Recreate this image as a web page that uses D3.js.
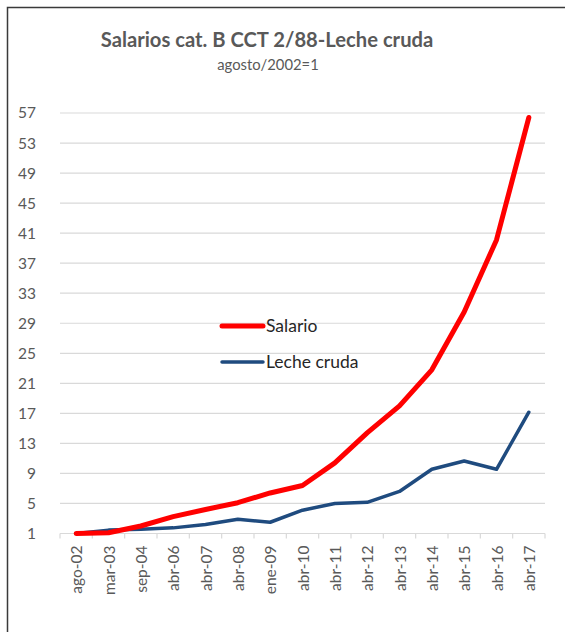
<!DOCTYPE html>
<html>
<head>
<meta charset="utf-8">
<script src="https://cdn.jsdelivr.net/npm/d3@7"></script>
<style>
  body { margin: 0; background: #fff; }
  text { font-family: Lato, "Open Sans", sans-serif; }
</style>
</head>
<body>
<div id="chart"></div>
<script>
var w = 565,
  h = 632;

// data (agosto/2002 = 1)
var categories = ['ago-02', 'mar-03', 'sep-04', 'abr-06', 'abr-07', 'abr-08', 'ene-09', 'abr-10',
  'abr-11', 'abr-12', 'abr-13', 'abr-14', 'abr-15', 'abr-16', 'abr-17'];
var salario = [1.0, 1.1, 2.0, 3.25, 4.2, 5.1, 6.4, 7.4, 10.4, 14.4, 18.0, 22.8, 30.5, 40.1, 56.4];
var leche = [1.0, 1.45, 1.55, 1.75, 2.2, 2.9, 2.5, 4.1, 5.0, 5.15, 6.6, 9.55, 10.65, 9.55, 17.15];
var yTicks = [1, 5, 9, 13, 17, 21, 25, 29, 33, 37, 41, 45, 49, 53, 57];

var series = [
  { name: 'Salario', values: salario, color: '#ff0000', width: 5 },
  { name: 'Leche cruda', values: leche, color: '#1f4b7f', width: 3.5 }
];

var plot = { left: 60, right: 545, top: 113, bottom: 533.5 };

var svg = d3.select('#chart').append('svg')
  .attr('width', w)
  .attr('height', h);

// outer frame (cut off at the right and bottom like the picture)
svg.append('rect')
  .attr('x', 7.5).attr('y', 7.5)
  .attr('width', w + 20).attr('height', h + 20)
  .attr('fill', '#fff')
  .attr('stroke', '#3a3a3a')
  .attr('stroke-width', 1.5);

// title
svg.append('text')
  .attr('x', 267).attr('y', 47)
  .attr('text-anchor', 'middle')
  .attr('font-size', 20.2)
  .attr('font-weight', 'bold')
  .attr('fill', '#595959')
  .text('Salarios cat. B CCT 2/88-Leche cruda');

svg.append('text')
  .attr('x', 268).attr('y', 70)
  .attr('text-anchor', 'middle')
  .attr('font-size', 14.8)
  .attr('fill', '#595959')
  .text('agosto/2002=1');

var x = d3.scaleBand()
  .domain(categories)
  .range([plot.left, plot.right]);

var y = d3.scaleLinear()
  .domain([1, 57])
  .range([plot.bottom, plot.top]);

// gridlines
svg.append('g')
  .selectAll('line')
  .data(yTicks.slice(1))
  .enter().append('line')
  .attr('x1', plot.left).attr('x2', plot.right)
  .attr('y1', function(d) { return y(d); })
  .attr('y2', function(d) { return y(d); })
  .attr('stroke', '#d9d9d9')
  .attr('stroke-width', 1.2);

// y axis labels
var yAxis = svg.append('g')
  .attr('transform', 'translate(' + (plot.left - 24) + ',0)')
  .call(d3.axisLeft(y).tickValues(yTicks).tickSize(0).tickPadding(0));
yAxis.select('.domain').remove();
yAxis.selectAll('text')
  .attr('font-size', 15.5)
  .attr('fill', '#595959')
  .style('font-family', 'Lato, "Open Sans", sans-serif');

// x axis: line plus ticks on the band edges
var xg = svg.append('g');
xg.append('line')
  .attr('x1', plot.left).attr('x2', plot.right)
  .attr('y1', plot.bottom).attr('y2', plot.bottom)
  .attr('stroke', '#d9d9d9')
  .attr('stroke-width', 1.2);
xg.selectAll('.tick')
  .data(categories.concat(['end']))
  .enter().append('line')
  .attr('x1', function(d, i) { return plot.left + i * x.step(); })
  .attr('x2', function(d, i) { return plot.left + i * x.step(); })
  .attr('y1', plot.bottom)
  .attr('y2', plot.bottom + 5)
  .attr('stroke', '#d9d9d9')
  .attr('stroke-width', 1.2);
xg.selectAll('text')
  .data(categories)
  .enter().append('text')
  .attr('transform', function(d) {
    return 'translate(' + (x(d) + x.bandwidth() / 2 + 6) + ',' + (plot.bottom + 12) + ') rotate(-90)';
  })
  .attr('text-anchor', 'end')
  .attr('font-size', 15.5)
  .attr('fill', '#595959')
  .text(function(d) { return d; });

// lines (blue first so red sits on top)
var line = d3.line()
  .x(function(d, i) { return x(categories[i]) + x.bandwidth() / 2; })
  .y(function(d) { return y(d); });

svg.selectAll('.series')
  .data(series.slice().reverse())
  .enter().append('path')
  .attr('class', 'series')
  .attr('d', function(d) { return line(d.values); })
  .attr('fill', 'none')
  .attr('stroke', function(d) { return d.color; })
  .attr('stroke-width', function(d) { return d.width; })
  .attr('stroke-linecap', 'round')
  .attr('stroke-linejoin', 'round');

// legend
var legend = svg.selectAll('.legend')
  .data(series)
  .enter().append('g')
  .attr('class', 'legend')
  .attr('transform', function(d, i) { return 'translate(222,' + (326 + i * 36) + ')'; });
legend.append('line')
  .attr('x1', 0).attr('x2', 41)
  .attr('stroke', function(d) { return d.color; })
  .attr('stroke-width', function(d) { return d.width; })
  .attr('stroke-linecap', 'round');
legend.append('text')
  .attr('x', 44).attr('y', 6)
  .attr('font-size', 17.5)
  .attr('fill', '#262626')
  .text(function(d) { return d.name; });
</script>
</body>
</html>
